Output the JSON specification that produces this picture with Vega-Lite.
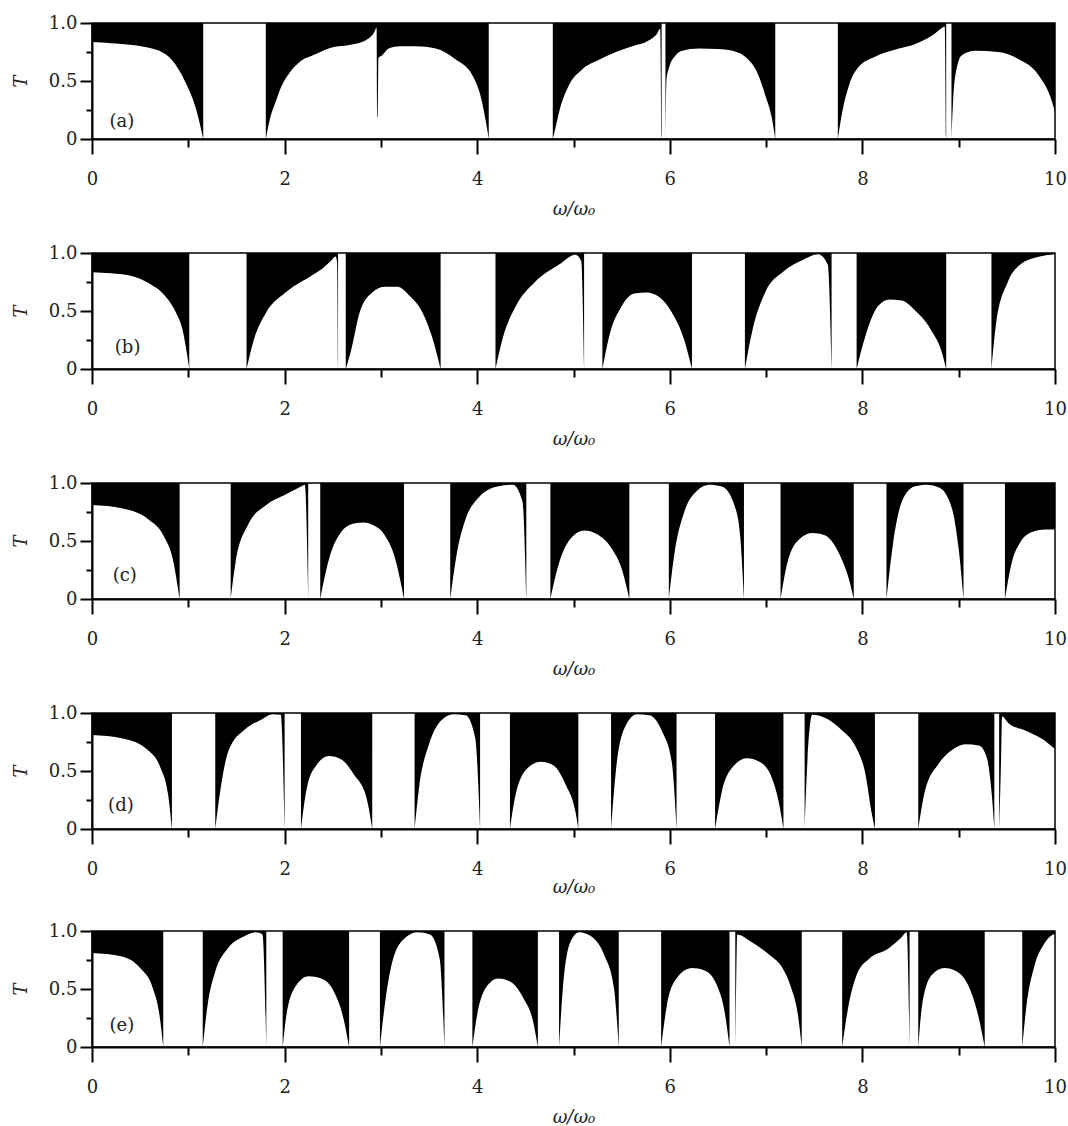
{
"$schema": "https://vega.github.io/schema/vega-lite/v6.json",
"background": "white",
"padding": {"left": 11, "top": 13, "right": 8, "bottom": 5},
"config": {
  "view": {"stroke": "black", "strokeWidth": 1.5},
  "font": "DejaVu Serif",
  "concat": {"spacing": 24},
  "axisX": {"tickSize": 15, "tickWidth": 2, "tickColor": "black", "domainColor": "black", "domainWidth": 2, "labelFontSize": 18, "labelColor": "#222", "labelPadding": 16, "labelFlush": false, "titleFontSize": 18, "titleFontWeight": "normal", "titleFontStyle": "italic", "titleColor": "#222", "titlePadding": 12, "grid": false},
  "axisY": {"tickSize": 12, "tickWidth": 2, "tickColor": "black", "domainColor": "black", "domainWidth": 2, "labelFontSize": 18, "labelColor": "#222", "labelPadding": 3, "titleFontSize": 18, "titleFontWeight": "normal", "titleFontStyle": "italic", "titleColor": "#222", "titlePadding": 18, "grid": false}
},
"datasets": {
"s": [
{"p":"a","b":1,"x":0,"lo":0.836},{"p":"a","b":1,"x":0.2,"lo":0.825},{"p":"a","b":1,"x":0.42,"lo":0.81},{"p":"a","b":1,"x":0.6,"lo":0.785},{"p":"a","b":1,"x":0.7,"lo":0.76},{"p":"a","b":1,"x":0.83,"lo":0.68},{"p":"a","b":1,"x":0.97,"lo":0.49},{"p":"a","b":1,"x":1.08,"lo":0.26},{"p":"a","b":1,"x":1.12,"lo":0.13},{"p":"a","b":1,"x":1.155,"lo":0},
{"p":"a","b":2,"x":1.805,"lo":0},{"p":"a","b":2,"x":1.85,"lo":0.18},{"p":"a","b":2,"x":1.906,"lo":0.32},{"p":"a","b":2,"x":1.97,"lo":0.46},{"p":"a","b":2,"x":2.05,"lo":0.57},{"p":"a","b":2,"x":2.15,"lo":0.66},{"p":"a","b":2,"x":2.32,"lo":0.73},{"p":"a","b":2,"x":2.5,"lo":0.79},{"p":"a","b":2,"x":2.67,"lo":0.81},{"p":"a","b":2,"x":2.84,"lo":0.85},{"p":"a","b":2,"x":2.93,"lo":0.92},{"p":"a","b":2,"x":2.955,"lo":0.96},{"p":"a","b":2,"x":2.965,"lo":0.19},{"p":"a","b":2,"x":2.975,"lo":0.7},{"p":"a","b":2,"x":3.01,"lo":0.72},{"p":"a","b":2,"x":3.08,"lo":0.78},{"p":"a","b":2,"x":3.2,"lo":0.8},{"p":"a","b":2,"x":3.36,"lo":0.8},{"p":"a","b":2,"x":3.57,"lo":0.78},{"p":"a","b":2,"x":3.77,"lo":0.69},{"p":"a","b":2,"x":3.95,"lo":0.55},{"p":"a","b":2,"x":4.05,"lo":0.32},{"p":"a","b":2,"x":4.09,"lo":0.15},{"p":"a","b":2,"x":4.12,"lo":0},
{"p":"a","b":3,"x":4.785,"lo":0},{"p":"a","b":3,"x":4.82,"lo":0.12},{"p":"a","b":3,"x":4.85,"lo":0.23},{"p":"a","b":3,"x":4.95,"lo":0.46},{"p":"a","b":3,"x":5.09,"lo":0.6},{"p":"a","b":3,"x":5.26,"lo":0.68},{"p":"a","b":3,"x":5.44,"lo":0.75},{"p":"a","b":3,"x":5.61,"lo":0.8},{"p":"a","b":3,"x":5.78,"lo":0.85},{"p":"a","b":3,"x":5.87,"lo":0.91},{"p":"a","b":3,"x":5.9,"lo":0.95},{"p":"a","b":3,"x":5.915,"lo":0},
{"p":"a","b":4,"x":5.955,"lo":0},{"p":"a","b":4,"x":5.965,"lo":0.5},{"p":"a","b":4,"x":5.99,"lo":0.61},{"p":"a","b":4,"x":6.06,"lo":0.72},{"p":"a","b":4,"x":6.13,"lo":0.76},{"p":"a","b":4,"x":6.3,"lo":0.78},{"p":"a","b":4,"x":6.5,"lo":0.775},{"p":"a","b":4,"x":6.65,"lo":0.76},{"p":"a","b":4,"x":6.82,"lo":0.68},{"p":"a","b":4,"x":6.92,"lo":0.55},{"p":"a","b":4,"x":6.99,"lo":0.38},{"p":"a","b":4,"x":7.06,"lo":0.18},{"p":"a","b":4,"x":7.095,"lo":0},
{"p":"a","b":5,"x":7.745,"lo":0},{"p":"a","b":5,"x":7.79,"lo":0.23},{"p":"a","b":5,"x":7.86,"lo":0.46},{"p":"a","b":5,"x":7.96,"lo":0.62},{"p":"a","b":5,"x":8.13,"lo":0.71},{"p":"a","b":5,"x":8.38,"lo":0.78},{"p":"a","b":5,"x":8.55,"lo":0.82},{"p":"a","b":5,"x":8.72,"lo":0.89},{"p":"a","b":5,"x":8.83,"lo":0.96},{"p":"a","b":5,"x":8.855,"lo":0.97},{"p":"a","b":5,"x":8.87,"lo":0},
{"p":"a","b":6,"x":8.925,"lo":0},{"p":"a","b":6,"x":8.94,"lo":0.3},{"p":"a","b":6,"x":8.96,"lo":0.52},{"p":"a","b":6,"x":9.03,"lo":0.72},{"p":"a","b":6,"x":9.17,"lo":0.76},{"p":"a","b":6,"x":9.41,"lo":0.75},{"p":"a","b":6,"x":9.62,"lo":0.69},{"p":"a","b":6,"x":9.83,"lo":0.55},{"p":"a","b":6,"x":9.97,"lo":0.32},{"p":"a","b":6,"x":10,"lo":0.23},

{"p":"b","b":1,"x":0,"lo":0.835},{"p":"b","b":1,"x":0.2,"lo":0.825},{"p":"b","b":1,"x":0.42,"lo":0.8},{"p":"b","b":1,"x":0.59,"lo":0.74},{"p":"b","b":1,"x":0.76,"lo":0.63},{"p":"b","b":1,"x":0.87,"lo":0.49},{"p":"b","b":1,"x":0.94,"lo":0.34},{"p":"b","b":1,"x":0.99,"lo":0.11},{"p":"b","b":1,"x":1.01,"lo":0},
{"p":"b","b":2,"x":1.605,"lo":0},{"p":"b","b":2,"x":1.68,"lo":0.25},{"p":"b","b":2,"x":1.81,"lo":0.49},{"p":"b","b":2,"x":2.01,"lo":0.66},{"p":"b","b":2,"x":2.27,"lo":0.8},{"p":"b","b":2,"x":2.4,"lo":0.87},{"p":"b","b":2,"x":2.48,"lo":0.93},{"p":"b","b":2,"x":2.53,"lo":0.97},{"p":"b","b":2,"x":2.545,"lo":0.92},{"p":"b","b":2,"x":2.555,"lo":0},
{"p":"b","b":3,"x":2.635,"lo":0},{"p":"b","b":3,"x":2.69,"lo":0.16},{"p":"b","b":3,"x":2.78,"lo":0.49},{"p":"b","b":3,"x":2.91,"lo":0.66},{"p":"b","b":3,"x":3.04,"lo":0.71},{"p":"b","b":3,"x":3.17,"lo":0.71},{"p":"b","b":3,"x":3.3,"lo":0.63},{"p":"b","b":3,"x":3.43,"lo":0.49},{"p":"b","b":3,"x":3.53,"lo":0.28},{"p":"b","b":3,"x":3.62,"lo":0},
{"p":"b","b":4,"x":4.19,"lo":0},{"p":"b","b":4,"x":4.27,"lo":0.28},{"p":"b","b":4,"x":4.4,"lo":0.54},{"p":"b","b":4,"x":4.6,"lo":0.75},{"p":"b","b":4,"x":4.85,"lo":0.9},{"p":"b","b":4,"x":5.02,"lo":0.985},{"p":"b","b":4,"x":5.08,"lo":0.93},{"p":"b","b":4,"x":5.11,"lo":0},
{"p":"b","b":5,"x":5.3,"lo":0},{"p":"b","b":5,"x":5.37,"lo":0.28},{"p":"b","b":5,"x":5.5,"lo":0.54},{"p":"b","b":5,"x":5.63,"lo":0.65},{"p":"b","b":5,"x":5.76,"lo":0.66},{"p":"b","b":5,"x":5.89,"lo":0.62},{"p":"b","b":5,"x":6.02,"lo":0.49},{"p":"b","b":5,"x":6.15,"lo":0.25},{"p":"b","b":5,"x":6.23,"lo":0},
{"p":"b","b":6,"x":6.78,"lo":0},{"p":"b","b":6,"x":6.86,"lo":0.34},{"p":"b","b":6,"x":6.99,"lo":0.66},{"p":"b","b":6,"x":7.18,"lo":0.84},{"p":"b","b":6,"x":7.38,"lo":0.94},{"p":"b","b":6,"x":7.54,"lo":0.99},{"p":"b","b":6,"x":7.64,"lo":0.9},{"p":"b","b":6,"x":7.68,"lo":0},
{"p":"b","b":7,"x":7.94,"lo":0},{"p":"b","b":7,"x":8.03,"lo":0.28},{"p":"b","b":7,"x":8.16,"lo":0.54},{"p":"b","b":7,"x":8.28,"lo":0.6},{"p":"b","b":7,"x":8.41,"lo":0.59},{"p":"b","b":7,"x":8.54,"lo":0.51},{"p":"b","b":7,"x":8.71,"lo":0.34},{"p":"b","b":7,"x":8.83,"lo":0.13},{"p":"b","b":7,"x":8.87,"lo":0},
{"p":"b","b":8,"x":9.34,"lo":0},{"p":"b","b":8,"x":9.39,"lo":0.4},{"p":"b","b":8,"x":9.51,"lo":0.75},{"p":"b","b":8,"x":9.64,"lo":0.9},{"p":"b","b":8,"x":9.84,"lo":0.97},{"p":"b","b":8,"x":10,"lo":0.99},

{"p":"c","b":1,"x":0,"lo":0.81},{"p":"c","b":1,"x":0.32,"lo":0.78},{"p":"c","b":1,"x":0.58,"lo":0.69},{"p":"c","b":1,"x":0.74,"lo":0.55},{"p":"c","b":1,"x":0.84,"lo":0.34},{"p":"c","b":1,"x":0.91,"lo":0},
{"p":"c","b":2,"x":1.44,"lo":0},{"p":"c","b":2,"x":1.49,"lo":0.31},{"p":"c","b":2,"x":1.62,"lo":0.64},{"p":"c","b":2,"x":1.81,"lo":0.81},{"p":"c","b":2,"x":2.01,"lo":0.9},{"p":"c","b":2,"x":2.17,"lo":0.97},{"p":"c","b":2,"x":2.21,"lo":0.985},{"p":"c","b":2,"x":2.245,"lo":0},
{"p":"c","b":3,"x":2.37,"lo":0},{"p":"c","b":3,"x":2.46,"lo":0.34},{"p":"c","b":3,"x":2.59,"lo":0.58},{"p":"c","b":3,"x":2.72,"lo":0.65},{"p":"c","b":3,"x":2.82,"lo":0.66},{"p":"c","b":3,"x":2.91,"lo":0.64},{"p":"c","b":3,"x":3.04,"lo":0.55},{"p":"c","b":3,"x":3.14,"lo":0.37},{"p":"c","b":3,"x":3.24,"lo":0},
{"p":"c","b":4,"x":3.72,"lo":0},{"p":"c","b":4,"x":3.79,"lo":0.4},{"p":"c","b":4,"x":3.88,"lo":0.69},{"p":"c","b":4,"x":4.01,"lo":0.87},{"p":"c","b":4,"x":4.21,"lo":0.97},{"p":"c","b":4,"x":4.37,"lo":0.985},{"p":"c","b":4,"x":4.47,"lo":0.84},{"p":"c","b":4,"x":4.51,"lo":0},
{"p":"c","b":5,"x":4.76,"lo":0},{"p":"c","b":5,"x":4.85,"lo":0.31},{"p":"c","b":5,"x":4.98,"lo":0.53},{"p":"c","b":5,"x":5.11,"lo":0.59},{"p":"c","b":5,"x":5.24,"lo":0.56},{"p":"c","b":5,"x":5.4,"lo":0.43},{"p":"c","b":5,"x":5.5,"lo":0.26},{"p":"c","b":5,"x":5.58,"lo":0},
{"p":"c","b":6,"x":5.99,"lo":0},{"p":"c","b":6,"x":6.05,"lo":0.4},{"p":"c","b":6,"x":6.15,"lo":0.75},{"p":"c","b":6,"x":6.28,"lo":0.93},{"p":"c","b":6,"x":6.41,"lo":0.985},{"p":"c","b":6,"x":6.54,"lo":0.97},{"p":"c","b":6,"x":6.67,"lo":0.81},{"p":"c","b":6,"x":6.73,"lo":0.55},{"p":"c","b":6,"x":6.77,"lo":0},
{"p":"c","b":7,"x":7.15,"lo":0},{"p":"c","b":7,"x":7.22,"lo":0.31},{"p":"c","b":7,"x":7.35,"lo":0.52},{"p":"c","b":7,"x":7.48,"lo":0.57},{"p":"c","b":7,"x":7.61,"lo":0.55},{"p":"c","b":7,"x":7.77,"lo":0.37},{"p":"c","b":7,"x":7.86,"lo":0.17},{"p":"c","b":7,"x":7.91,"lo":0},
{"p":"c","b":8,"x":8.25,"lo":0},{"p":"c","b":8,"x":8.32,"lo":0.49},{"p":"c","b":8,"x":8.41,"lo":0.84},{"p":"c","b":8,"x":8.54,"lo":0.97},{"p":"c","b":8,"x":8.67,"lo":0.985},{"p":"c","b":8,"x":8.8,"lo":0.96},{"p":"c","b":8,"x":8.93,"lo":0.78},{"p":"c","b":8,"x":9,"lo":0.43},{"p":"c","b":8,"x":9.05,"lo":0},
{"p":"c","b":9,"x":9.48,"lo":0},{"p":"c","b":9,"x":9.55,"lo":0.31},{"p":"c","b":9,"x":9.64,"lo":0.49},{"p":"c","b":9,"x":9.77,"lo":0.58},{"p":"c","b":9,"x":9.9,"lo":0.6},{"p":"c","b":9,"x":10,"lo":0.6},

{"p":"d","b":1,"x":0,"lo":0.81},{"p":"d","b":1,"x":0.32,"lo":0.78},{"p":"d","b":1,"x":0.58,"lo":0.68},{"p":"d","b":1,"x":0.71,"lo":0.53},{"p":"d","b":1,"x":0.79,"lo":0.3},{"p":"d","b":1,"x":0.83,"lo":0},
{"p":"d","b":2,"x":1.28,"lo":0},{"p":"d","b":2,"x":1.33,"lo":0.32},{"p":"d","b":2,"x":1.42,"lo":0.68},{"p":"d","b":2,"x":1.59,"lo":0.86},{"p":"d","b":2,"x":1.75,"lo":0.94},{"p":"d","b":2,"x":1.88,"lo":0.99},{"p":"d","b":2,"x":1.96,"lo":0.985},{"p":"d","b":2,"x":2,"lo":0},
{"p":"d","b":3,"x":2.17,"lo":0},{"p":"d","b":3,"x":2.23,"lo":0.35},{"p":"d","b":3,"x":2.33,"lo":0.55},{"p":"d","b":3,"x":2.46,"lo":0.63},{"p":"d","b":3,"x":2.59,"lo":0.6},{"p":"d","b":3,"x":2.72,"lo":0.47},{"p":"d","b":3,"x":2.85,"lo":0.27},{"p":"d","b":3,"x":2.91,"lo":0},
{"p":"d","b":4,"x":3.35,"lo":0},{"p":"d","b":4,"x":3.4,"lo":0.38},{"p":"d","b":4,"x":3.5,"lo":0.73},{"p":"d","b":4,"x":3.62,"lo":0.93},{"p":"d","b":4,"x":3.75,"lo":0.99},{"p":"d","b":4,"x":3.88,"lo":0.98},{"p":"d","b":4,"x":3.98,"lo":0.78},{"p":"d","b":4,"x":4.03,"lo":0},
{"p":"d","b":5,"x":4.34,"lo":0},{"p":"d","b":5,"x":4.4,"lo":0.3},{"p":"d","b":5,"x":4.53,"lo":0.53},{"p":"d","b":5,"x":4.66,"lo":0.58},{"p":"d","b":5,"x":4.79,"lo":0.55},{"p":"d","b":5,"x":4.92,"lo":0.38},{"p":"d","b":5,"x":5.02,"lo":0.15},{"p":"d","b":5,"x":5.05,"lo":0},
{"p":"d","b":6,"x":5.39,"lo":0},{"p":"d","b":6,"x":5.44,"lo":0.5},{"p":"d","b":6,"x":5.53,"lo":0.87},{"p":"d","b":6,"x":5.66,"lo":0.99},{"p":"d","b":6,"x":5.79,"lo":0.98},{"p":"d","b":6,"x":5.92,"lo":0.84},{"p":"d","b":6,"x":6.02,"lo":0.58},{"p":"d","b":6,"x":6.07,"lo":0},
{"p":"d","b":7,"x":6.47,"lo":0},{"p":"d","b":7,"x":6.54,"lo":0.32},{"p":"d","b":7,"x":6.67,"lo":0.55},{"p":"d","b":7,"x":6.8,"lo":0.61},{"p":"d","b":7,"x":6.93,"lo":0.58},{"p":"d","b":7,"x":7.06,"lo":0.44},{"p":"d","b":7,"x":7.13,"lo":0.24},{"p":"d","b":7,"x":7.18,"lo":0},
{"p":"d","b":8,"x":7.4,"lo":0},{"p":"d","b":8,"x":7.43,"lo":0.6},{"p":"d","b":8,"x":7.48,"lo":0.985},{"p":"d","b":8,"x":7.61,"lo":0.96},{"p":"d","b":8,"x":7.79,"lo":0.85},{"p":"d","b":8,"x":7.93,"lo":0.71},{"p":"d","b":8,"x":8.03,"lo":0.48},{"p":"d","b":8,"x":8.1,"lo":0.12},{"p":"d","b":8,"x":8.13,"lo":0},
{"p":"d","b":9,"x":8.58,"lo":0},{"p":"d","b":9,"x":8.65,"lo":0.33},{"p":"d","b":9,"x":8.79,"lo":0.56},{"p":"d","b":9,"x":8.93,"lo":0.68},{"p":"d","b":9,"x":9.07,"lo":0.73},{"p":"d","b":9,"x":9.21,"lo":0.72},{"p":"d","b":9,"x":9.29,"lo":0.62},{"p":"d","b":9,"x":9.34,"lo":0.33},{"p":"d","b":9,"x":9.37,"lo":0},
{"p":"d","b":10,"x":9.42,"lo":0},{"p":"d","b":10,"x":9.44,"lo":0.6},{"p":"d","b":10,"x":9.45,"lo":0.97},{"p":"d","b":10,"x":9.52,"lo":0.91},{"p":"d","b":10,"x":9.69,"lo":0.85},{"p":"d","b":10,"x":9.86,"lo":0.78},{"p":"d","b":10,"x":10,"lo":0.69},

{"p":"e","b":1,"x":0,"lo":0.81},{"p":"e","b":1,"x":0.31,"lo":0.78},{"p":"e","b":1,"x":0.5,"lo":0.68},{"p":"e","b":1,"x":0.63,"lo":0.51},{"p":"e","b":1,"x":0.7,"lo":0.28},{"p":"e","b":1,"x":0.74,"lo":0},
{"p":"e","b":2,"x":1.15,"lo":0},{"p":"e","b":2,"x":1.2,"lo":0.36},{"p":"e","b":2,"x":1.28,"lo":0.65},{"p":"e","b":2,"x":1.41,"lo":0.85},{"p":"e","b":2,"x":1.57,"lo":0.95},{"p":"e","b":2,"x":1.7,"lo":0.99},{"p":"e","b":2,"x":1.77,"lo":0.97},{"p":"e","b":2,"x":1.81,"lo":0},
{"p":"e","b":3,"x":1.98,"lo":0},{"p":"e","b":3,"x":2.02,"lo":0.28},{"p":"e","b":3,"x":2.12,"lo":0.53},{"p":"e","b":3,"x":2.25,"lo":0.61},{"p":"e","b":3,"x":2.38,"lo":0.59},{"p":"e","b":3,"x":2.51,"lo":0.48},{"p":"e","b":3,"x":2.61,"lo":0.25},{"p":"e","b":3,"x":2.67,"lo":0},
{"p":"e","b":4,"x":2.99,"lo":0},{"p":"e","b":4,"x":3.04,"lo":0.36},{"p":"e","b":4,"x":3.12,"lo":0.74},{"p":"e","b":4,"x":3.25,"lo":0.94},{"p":"e","b":4,"x":3.38,"lo":0.99},{"p":"e","b":4,"x":3.51,"lo":0.97},{"p":"e","b":4,"x":3.61,"lo":0.76},{"p":"e","b":4,"x":3.66,"lo":0},
{"p":"e","b":5,"x":3.95,"lo":0},{"p":"e","b":5,"x":4,"lo":0.28},{"p":"e","b":5,"x":4.09,"lo":0.51},{"p":"e","b":5,"x":4.22,"lo":0.59},{"p":"e","b":5,"x":4.35,"lo":0.56},{"p":"e","b":5,"x":4.48,"lo":0.42},{"p":"e","b":5,"x":4.58,"lo":0.22},{"p":"e","b":5,"x":4.63,"lo":0},
{"p":"e","b":6,"x":4.85,"lo":0},{"p":"e","b":6,"x":4.89,"lo":0.51},{"p":"e","b":6,"x":4.97,"lo":0.91},{"p":"e","b":6,"x":5.06,"lo":0.99},{"p":"e","b":6,"x":5.19,"lo":0.95},{"p":"e","b":6,"x":5.32,"lo":0.79},{"p":"e","b":6,"x":5.42,"lo":0.51},{"p":"e","b":6,"x":5.47,"lo":0},
{"p":"e","b":7,"x":5.91,"lo":0},{"p":"e","b":7,"x":5.97,"lo":0.36},{"p":"e","b":7,"x":6.07,"lo":0.59},{"p":"e","b":7,"x":6.23,"lo":0.68},{"p":"e","b":7,"x":6.36,"lo":0.66},{"p":"e","b":7,"x":6.49,"lo":0.53},{"p":"e","b":7,"x":6.57,"lo":0.3},{"p":"e","b":7,"x":6.62,"lo":0},
{"p":"e","b":8,"x":6.68,"lo":0},{"p":"e","b":8,"x":6.69,"lo":0.6},{"p":"e","b":8,"x":6.7,"lo":0.97},{"p":"e","b":8,"x":6.84,"lo":0.91},{"p":"e","b":8,"x":7.04,"lo":0.79},{"p":"e","b":8,"x":7.17,"lo":0.68},{"p":"e","b":8,"x":7.26,"lo":0.51},{"p":"e","b":8,"x":7.33,"lo":0.28},{"p":"e","b":8,"x":7.37,"lo":0},
{"p":"e","b":9,"x":7.79,"lo":0},{"p":"e","b":9,"x":7.85,"lo":0.33},{"p":"e","b":9,"x":7.94,"lo":0.62},{"p":"e","b":9,"x":8.07,"lo":0.76},{"p":"e","b":9,"x":8.27,"lo":0.85},{"p":"e","b":9,"x":8.4,"lo":0.94},{"p":"e","b":9,"x":8.46,"lo":0.99},{"p":"e","b":9,"x":8.49,"lo":0},
{"p":"e","b":10,"x":8.58,"lo":0},{"p":"e","b":10,"x":8.62,"lo":0.36},{"p":"e","b":10,"x":8.72,"lo":0.62},{"p":"e","b":10,"x":8.85,"lo":0.68},{"p":"e","b":10,"x":8.98,"lo":0.65},{"p":"e","b":10,"x":9.11,"lo":0.51},{"p":"e","b":10,"x":9.2,"lo":0.28},{"p":"e","b":10,"x":9.27,"lo":0},
{"p":"e","b":11,"x":9.66,"lo":0},{"p":"e","b":11,"x":9.7,"lo":0.33},{"p":"e","b":11,"x":9.79,"lo":0.71},{"p":"e","b":11,"x":9.88,"lo":0.88},{"p":"e","b":11,"x":9.98,"lo":0.97},{"p":"e","b":11,"x":10,"lo":0.975}
]
},
"vconcat": [
{"width": 963, "height": 116, "data": {"name": "s"}, "transform": [{"filter": "datum.p === 'a'"}],
 "resolve": {"axis": {"x": "independent", "y": "independent"}},
 "layer": [
  {"mark": {"type": "area", "color": "black", "interpolate": "monotone"}, "encoding": {"x": {"field": "x", "type": "quantitative", "scale": {"domain": [0, 10], "nice": false}, "axis": {"orient": "bottom", "title": "ω/ω₀", "values": [0,2,4,6,8,10], "format": "d"}}, "y": {"field": "lo", "type": "quantitative", "scale": {"domain": [0, 1]}, "axis": {"orient": "left", "title": "T", "values": [0,0.5,1], "labelExpr": "datum.value === 0 ? '0' : datum.value === 0.5 ? '0.5' : '1.0'"}}, "y2": {"datum": 1}, "detail": {"field": "b"}}},
  {"data": {"values": [{"l": "(a)"}]}, "mark": {"type": "text", "fontSize": 18, "color": "#222", "font": "DejaVu Serif"}, "encoding": {"x": {"datum": 0.31, "type": "quantitative", "axis": {"orient": "bottom", "values": [1,3,5,7,9], "tickSize": 8, "labels": false, "domain": false, "title": null}}, "y": {"datum": 0.15, "type": "quantitative", "axis": {"orient": "left", "values": [0.25,0.75], "tickSize": 6, "labels": false, "domain": false, "title": null}}, "text": {"field": "l"}}}
 ]},
{"width": 963, "height": 116, "data": {"name": "s"}, "transform": [{"filter": "datum.p === 'b'"}],
 "resolve": {"axis": {"x": "independent", "y": "independent"}},
 "layer": [
  {"mark": {"type": "area", "color": "black", "interpolate": "monotone"}, "encoding": {"x": {"field": "x", "type": "quantitative", "scale": {"domain": [0, 10], "nice": false}, "axis": {"orient": "bottom", "title": "ω/ω₀", "values": [0,2,4,6,8,10], "format": "d"}}, "y": {"field": "lo", "type": "quantitative", "scale": {"domain": [0, 1]}, "axis": {"orient": "left", "title": "T", "values": [0,0.5,1], "labelExpr": "datum.value === 0 ? '0' : datum.value === 0.5 ? '0.5' : '1.0'"}}, "y2": {"datum": 1}, "detail": {"field": "b"}}},
  {"data": {"values": [{"l": "(b)"}]}, "mark": {"type": "text", "fontSize": 18, "color": "#222", "font": "DejaVu Serif"}, "encoding": {"x": {"datum": 0.37, "type": "quantitative", "axis": {"orient": "bottom", "values": [1,3,5,7,9], "tickSize": 8, "labels": false, "domain": false, "title": null}}, "y": {"datum": 0.18, "type": "quantitative", "axis": {"orient": "left", "values": [0.25,0.75], "tickSize": 6, "labels": false, "domain": false, "title": null}}, "text": {"field": "l"}}}
 ]},
{"width": 963, "height": 116, "data": {"name": "s"}, "transform": [{"filter": "datum.p === 'c'"}],
 "resolve": {"axis": {"x": "independent", "y": "independent"}},
 "layer": [
  {"mark": {"type": "area", "color": "black", "interpolate": "monotone"}, "encoding": {"x": {"field": "x", "type": "quantitative", "scale": {"domain": [0, 10], "nice": false}, "axis": {"orient": "bottom", "title": "ω/ω₀", "values": [0,2,4,6,8,10], "format": "d"}}, "y": {"field": "lo", "type": "quantitative", "scale": {"domain": [0, 1]}, "axis": {"orient": "left", "title": "T", "values": [0,0.5,1], "labelExpr": "datum.value === 0 ? '0' : datum.value === 0.5 ? '0.5' : '1.0'"}}, "y2": {"datum": 1}, "detail": {"field": "b"}}},
  {"data": {"values": [{"l": "(c)"}]}, "mark": {"type": "text", "fontSize": 18, "color": "#222", "font": "DejaVu Serif"}, "encoding": {"x": {"datum": 0.34, "type": "quantitative", "axis": {"orient": "bottom", "values": [1,3,5,7,9], "tickSize": 8, "labels": false, "domain": false, "title": null}}, "y": {"datum": 0.2, "type": "quantitative", "axis": {"orient": "left", "values": [0.25,0.75], "tickSize": 6, "labels": false, "domain": false, "title": null}}, "text": {"field": "l"}}}
 ]},
{"width": 963, "height": 116, "data": {"name": "s"}, "transform": [{"filter": "datum.p === 'd'"}],
 "resolve": {"axis": {"x": "independent", "y": "independent"}},
 "layer": [
  {"mark": {"type": "area", "color": "black", "interpolate": "monotone"}, "encoding": {"x": {"field": "x", "type": "quantitative", "scale": {"domain": [0, 10], "nice": false}, "axis": {"orient": "bottom", "title": "ω/ω₀", "values": [0,2,4,6,8,10], "format": "d", "titlePadding": 0}}, "y": {"field": "lo", "type": "quantitative", "scale": {"domain": [0, 1]}, "axis": {"orient": "left", "title": "T", "values": [0,0.5,1], "labelExpr": "datum.value === 0 ? '0' : datum.value === 0.5 ? '0.5' : '1.0'"}}, "y2": {"datum": 1}, "detail": {"field": "b"}}},
  {"data": {"values": [{"l": "(d)"}]}, "mark": {"type": "text", "fontSize": 18, "color": "#222", "font": "DejaVu Serif"}, "encoding": {"x": {"datum": 0.3, "type": "quantitative", "axis": {"orient": "bottom", "values": [1,3,5,7,9], "tickSize": 8, "labels": false, "domain": false, "title": null}}, "y": {"datum": 0.2, "type": "quantitative", "axis": {"orient": "left", "values": [0.25,0.75], "tickSize": 6, "labels": false, "domain": false, "title": null}}, "text": {"field": "l"}}}
 ]},
{"width": 963, "height": 116, "data": {"name": "s"}, "transform": [{"filter": "datum.p === 'e'"}],
 "resolve": {"axis": {"x": "independent", "y": "independent"}},
 "layer": [
  {"mark": {"type": "area", "color": "black", "interpolate": "monotone"}, "encoding": {"x": {"field": "x", "type": "quantitative", "scale": {"domain": [0, 10], "nice": false}, "axis": {"orient": "bottom", "title": "ω/ω₀", "values": [0,2,4,6,8,10], "format": "d"}}, "y": {"field": "lo", "type": "quantitative", "scale": {"domain": [0, 1]}, "axis": {"orient": "left", "title": "T", "values": [0,0.5,1], "labelExpr": "datum.value === 0 ? '0' : datum.value === 0.5 ? '0.5' : '1.0'"}}, "y2": {"datum": 1}, "detail": {"field": "b"}}},
  {"data": {"values": [{"l": "(e)"}]}, "mark": {"type": "text", "fontSize": 18, "color": "#222", "font": "DejaVu Serif"}, "encoding": {"x": {"datum": 0.31, "type": "quantitative", "axis": {"orient": "bottom", "values": [1,3,5,7,9], "tickSize": 8, "labels": false, "domain": false, "title": null}}, "y": {"datum": 0.18, "type": "quantitative", "axis": {"orient": "left", "values": [0.25,0.75], "tickSize": 6, "labels": false, "domain": false, "title": null}}, "text": {"field": "l"}}}
 ]}
]
}
